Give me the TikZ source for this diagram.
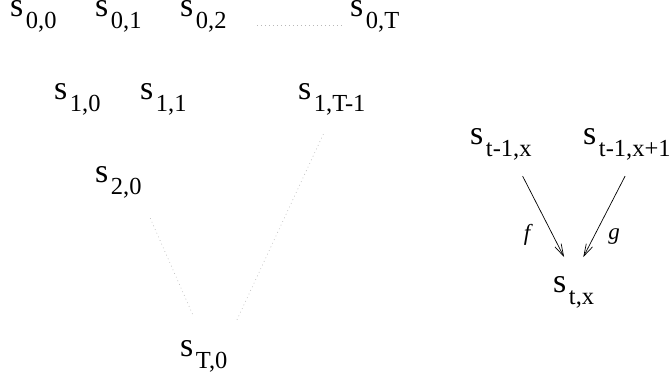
\documentclass[tikz,border=0pt]{standalone}
\usepackage{fontspec}
\setmainfont{Liberation Serif}
\newfontfamily\figserif{Liberation Serif}
\usetikzlibrary{arrows.meta}
\newcommand{\ssub}[1]{\kern2.5pt\raisebox{-12pt}{\fontsize{24.5}{28}\selectfont #1}}
\definecolor{gridink}{HTML}{000000}
\definecolor{gridfaint}{HTML}{B8B8B8}

\begin{document}
\begin{tikzpicture}[
  x=1pt,
  y=-1pt,
  every node/.style={gridink},
  state/.style={anchor=base west, inner sep=0pt,
                font=\figserif\fontsize{34}{40}\selectfont},
  lab/.style={inner sep=0pt, font=\figserif\fontsize{23}{27}\selectfont\itshape},
  faint/.style={gridfaint, line width=0.6pt, dash pattern=on 0.8pt off 3.2pt},
  flow/.style={gridink, line width=0.7pt,
               -{Straight Barb[length=12pt, width=7pt]}}
]
  % ---- fixed frame of the figure ----
  \path (0,0) rectangle (671,379);

  % ---- the triangle of states ----
  \node[state] (s00)  at (10,17)   {s\ssub{0,0}};
  \node[state] (s01)  at (95,17)   {s\ssub{0,1}};
  \node[state] (s02)  at (180,17)  {s\ssub{0,2}};
  \node[state] (s0T)  at (350,17)  {s\ssub{0,T}};
  \node[state] (s10)  at (54,100)  {s\ssub{1,0}};
  \node[state] (s11)  at (140,100) {s\ssub{1,1}};
  \node[state] (s1T1) at (298,100) {s\ssub{1,T-1}};
  \node[state] (s20)  at (95,183)  {s\ssub{2,0}};
  \node[state] (sT0)  at (180,356) {s\ssub{T,0}};

  % ---- the elided parts ----
  \draw[faint, shorten <=30pt, shorten >=7pt]
    ([yshift=-8pt]s02.base east) -- ([yshift=-8pt]s0T.base west);
  \draw[faint, shorten <=21pt, shorten >=28pt] (s20.south east) -- (sT0.north);
  \draw[faint, shorten <=20pt, shorten >=22pt] (s1T1.south) -- (sT0.north east);

  % ---- one step of the recursion ----
  \node[state] (prev)  at (470,145) {s\ssub{t-1,x}};
  \node[state] (prevr) at (583,145) {s\ssub{t-1,x+1}};
  \node[state] (cur)   at (553,292) {s\ssub{t,x}};
  \draw[flow, shorten <=17pt, shorten >=21pt] ([xshift=14pt]prev.south) -- (cur.north);
  \draw[flow, shorten <=17pt, shorten >=21pt] ([xshift=6pt]prevr.south) -- (cur.north);
  \node[lab] (f) at (527,235) {f};
  \node[lab] (g) at (614,237) {g};
\end{tikzpicture}
\end{document}
